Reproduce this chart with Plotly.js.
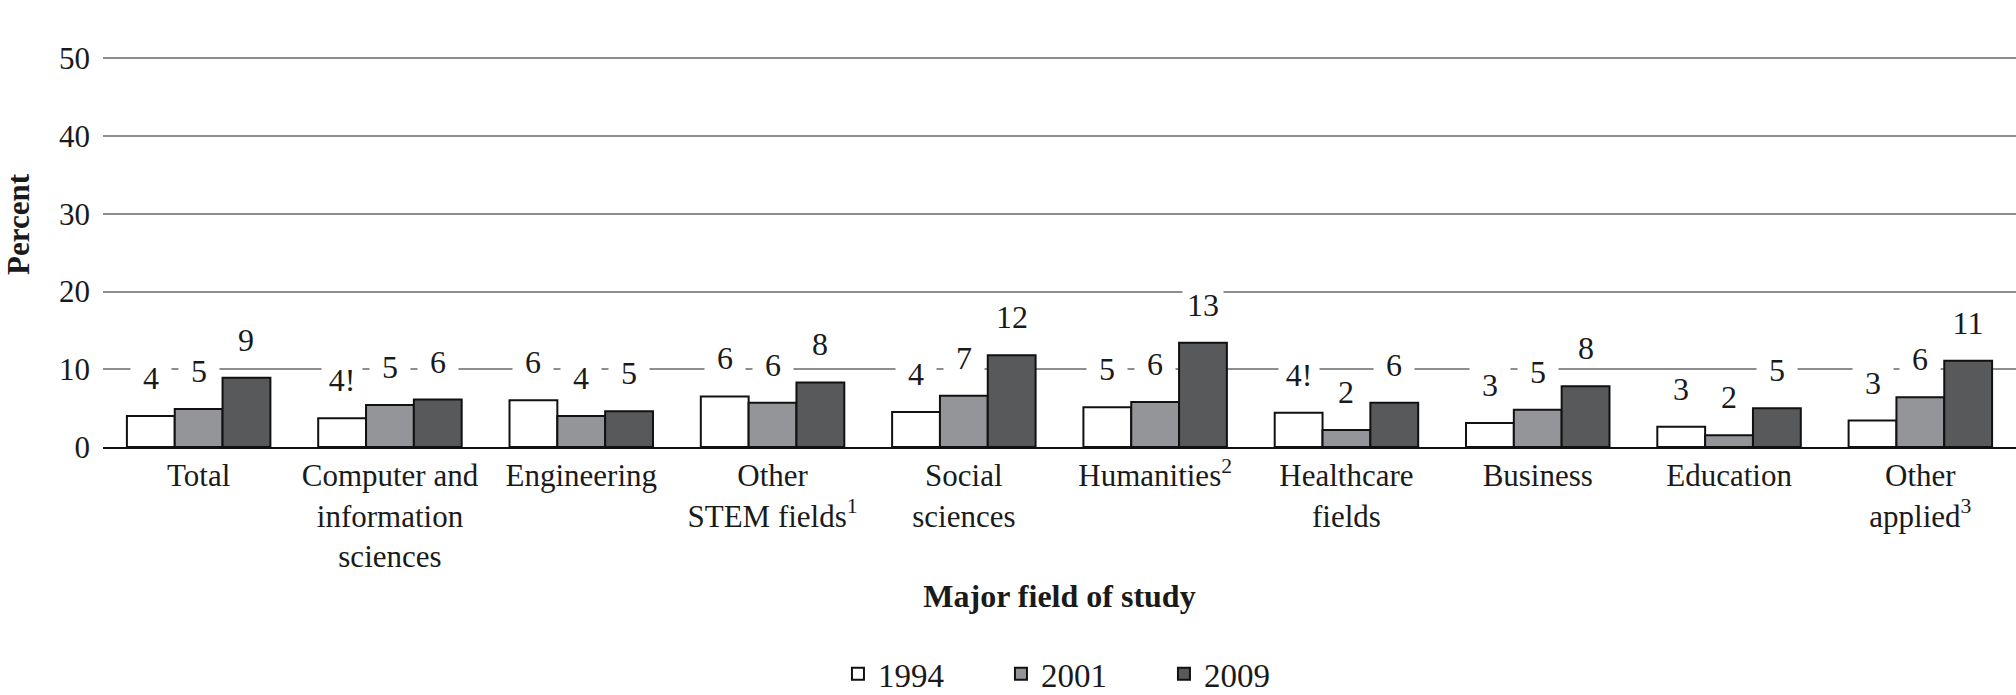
<!DOCTYPE html>
<html>
<head>
<meta charset="utf-8">
<script src="https://cdn.plot.ly/plotly-3.0.1.min.js"></script>
<style>
  html, body { margin: 0; padding: 0; background: #ffffff; }
  #chart { width: 2016px; height: 695px; }
</style>
</head>
<body>
<div id="chart"></div>
<script>
const categories = [
  'Total',
  'Computer and<br>information<br>sciences',
  'Engineering',
  'Other<br>STEM fields<sup>1</sup>',
  'Social<br>sciences',
  'Humanities<sup>2</sup>',
  'Healthcare<br>fields',
  'Business',
  'Education',
  'Other<br>applied<sup>3</sup>'
];
const years = ['1994', '2001', '2009'];
const values1994 = [4.0, 3.7, 6.0, 6.5, 4.5, 5.1, 4.4, 3.1, 2.6, 3.4];
const values2001 = [4.9, 5.4, 4.0, 5.7, 6.6, 5.8, 2.2, 4.8, 1.5, 6.4];
const values2009 = [8.9, 6.1, 4.6, 8.3, 11.8, 13.4, 5.7, 7.8, 5.0, 11.1];
const labels1994 = ['4', '4!', '6', '6', '4', '5', '4!', '3', '3', '3'];
const labels2001 = ['5', '5', '4', '6', '7', '6', '2', '5', '2', '6'];
const labels2009 = ['9', '6', '5', '8', '12', '13', '6', '8', '5', '11'];
const yTicks = [0, 10, 20, 30, 40, 50];

const FONT = '"Liberation Serif", "Times New Roman", serif';
const seriesValues = [values1994, values2001, values2009];
const seriesLabels = [labels1994, labels2001, labels2009];
const seriesColors = ['#ffffff', '#939598', '#58595b'];

const traces = years.map((yr, s) => ({
  type: 'bar',
  name: yr,
  x: categories,
  y: seriesValues[s],
  marker: { color: seriesColors[s], line: { color: '#111111', width: 2 } },
  hoverinfo: 'x+y+name'
}));

const BARGAP = 0.25;
const barWidth = (1 - BARGAP) / years.length;
const annotations = [];
seriesValues.forEach((vals, s) => {
  const offset = (s - (years.length - 1) / 2) * barWidth;
  vals.forEach((v, i) => {
    annotations.push({
      xref: 'x', yref: 'y',
      x: i + offset, y: v,
      text: seriesLabels[s][i],
      showarrow: false,
      yanchor: 'middle', xanchor: 'center',
      yshift: 38,
      bgcolor: '#ffffff',
      borderpad: 0,
      width: 40,
      font: { family: FONT, size: 32, color: '#1a1a1a' }
    });
  });
});

// y-axis title, placed where the reference shows it
annotations.push({
  xref: 'paper', yref: 'paper',
  x: -0.0445, y: 0.57,
  xanchor: 'center', yanchor: 'middle',
  text: '<b>Percent</b>',
  textangle: -90,
  showarrow: false,
  font: { family: FONT, size: 31, color: '#1a1a1a' }
});

const layout = {
  width: 2016, height: 695,
  margin: { l: 103, r: 0, t: 56, b: 248, autoexpand: false },
  paper_bgcolor: '#ffffff', plot_bgcolor: '#ffffff',
  barmode: 'group', bargap: BARGAP, bargroupgap: 0,
  font: { family: FONT, size: 31, color: '#1a1a1a' },
  showlegend: true,
  legend: {
    orientation: 'h', x: 0.512, xanchor: 'center', y: -0.58, yanchor: 'middle',
    font: { family: FONT, size: 33, color: '#1a1a1a' },
    entrywidth: 118, entrywidthmode: 'pixels',
    traceorder: 'normal'
  },
  xaxis: {
    type: 'category',
    tickangle: 0,
    ticks: '',
    showline: true, linecolor: '#111111', linewidth: 2,
    showgrid: false, zeroline: false,
    tickfont: { family: FONT, size: 31, color: '#1a1a1a' },
    automargin: false,
    title: {
      text: '<b>Major field of study</b>',
      font: { family: FONT, size: 32, color: '#1a1a1a' },
      standoff: 12
    }
  },
  yaxis: {
    range: [0, 50.3],
    tickvals: yTicks,
    ticktext: yTicks.map(String),
    ticks: '',
    ticklabelstandoff: 12,
    showgrid: true, gridcolor: '#8e8e8e', gridwidth: 2,
    zeroline: false, showline: false,
    tickfont: { family: FONT, size: 31, color: '#1a1a1a' },
    automargin: false
  },
  annotations: annotations
};

Plotly.newPlot('chart', traces, layout, { displayModeBar: false, staticPlot: true });
</script>
</body>
</html>
